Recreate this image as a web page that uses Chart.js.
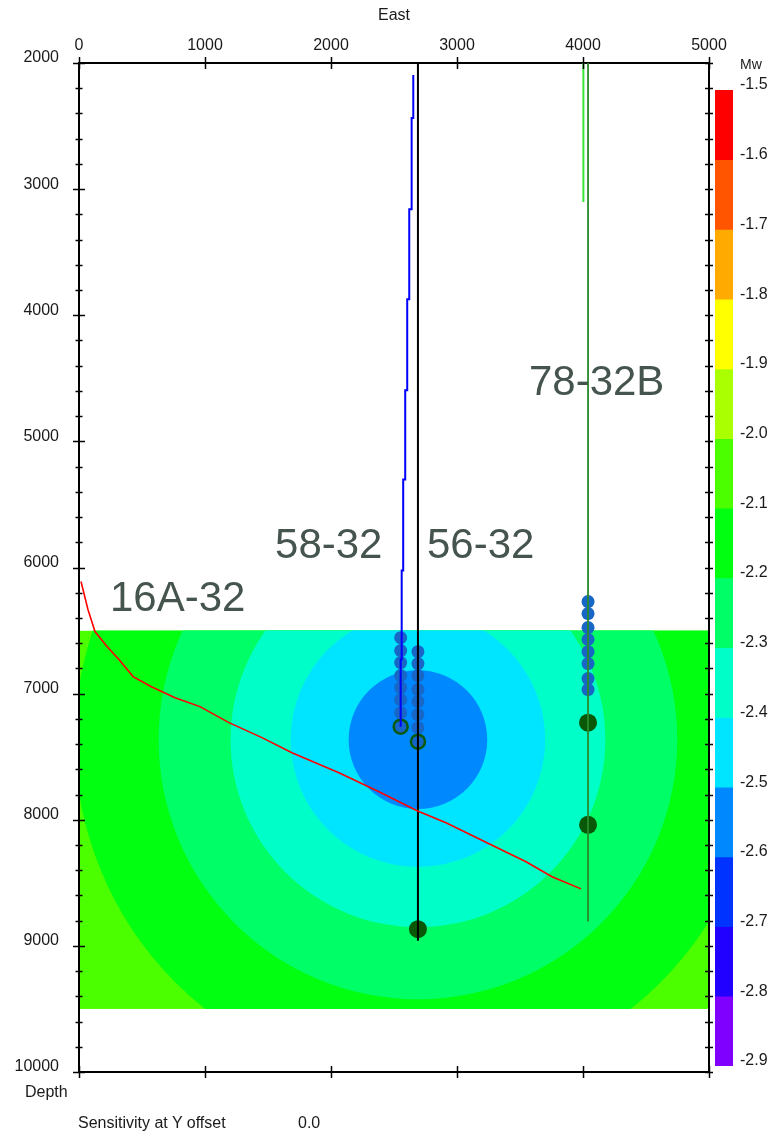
<!DOCTYPE html>
<html>
<head>
<meta charset="utf-8">
<script src="https://cdn.jsdelivr.net/npm/chart.js@4.4.1/dist/chart.umd.min.js"></script>
<style>
  html, body { margin: 0; padding: 0; background: #fff; }
  #wrap { position: relative; width: 777px; height: 1132px; font-family: "Liberation Sans", Arial, sans-serif; color: #1a1a1a; }
  #main, #scale { position: absolute; top: 0; }
  #main { left: 0; }
  #scale { left: 700px; }
  .note { position: absolute; font-size: 16px; line-height: 18px; white-space: pre; }
</style>
</head>
<body>
<div id="wrap">
  <canvas id="main" width="777" height="1132"></canvas>
  <canvas id="scale" width="77" height="1132"></canvas>
  <div class="note" style="left:740px; top:55px; font-size:14px;">Mw</div>
  <div class="note" style="left:25px; top:1083px;">Depth</div>
  <div class="note" style="left:78px; top:1114px;">Sensitivity at Y offset</div>
  <div class="note" style="left:298px; top:1114px;">0.0</div>
</div>
<script>
const FONT = '"Liberation Sans", Arial, sans-serif';
const TEXT = '#1a1a1a';

// Mw colour scale, top to bottom
const mwTicks = [-1.5, -1.6, -1.7, -1.8, -1.9, -2.0, -2.1, -2.2, -2.3, -2.4, -2.5, -2.6, -2.7, -2.8, -2.9];
const mwColors = ['#ff0000', '#ff5500', '#ffaa00', '#ffff00', '#aaff00', '#4cff00', '#00ff11',
                  '#00ff66', '#00ffc8', '#00e5ff', '#0088ff', '#0033ff', '#2200ff', '#7f00ff'];

// sensitivity field: extent, centre and band radii (ft)
const fieldEast = [0, 5000];
const fieldDepth = [6500, 9500];
const sourceEast = 2690;
const sourceDepth = 7365;
const bandTopMw = [-2.0, -2.1, -2.2, -2.3, -2.4, -2.5];
const bandRadius = [null, 2722, 2058, 1487, 1010, 550];

// well trajectories (east, depth in ft)
const well16A32East  = [16, 71, 127, 222, 317, 429, 571, 762, 960, 1190, 1452, 1690, 2063, 2381, 2683, 2913, 3254, 3548, 3754, 3984];
const well16A32Depth = [6111, 6333, 6508, 6627, 6730, 6865, 6944, 7032, 7103, 7230, 7349, 7468, 7627, 7778, 7929, 8024, 8190, 8333, 8452, 8548];
const well5832East   = [2653, 2640, 2621, 2605, 2589, 2573, 2561, 2553, 2553];
const well5832Depth  = [2095, 2437, 3159, 3873, 4595, 5302, 6024, 6730, 7262];
const well5632East   = [2690, 2690];
const well5632Depth  = [2000, 8960];
const well7832East   = [4003, 4003];
const well7832Depth  = [2000, 3103];
const well7832BEast  = [4040, 4040];
const well7832BDepth = [2000, 8807];

// located events
const events5832Depth  = [6556, 6659, 6754, 6857, 6952, 7048, 7151];
const events5632Depth  = [6667, 6762, 6857, 6968, 7063, 7167, 7270];
const events7832BDepth = [6270, 6365, 6476, 6571, 6667, 6762, 6881, 6968];
const ringEast  = [2553, 2690];
const ringDepth = [7262, 7381];
const largeEast  = [4040, 4040, 2690];
const largeDepth = [7230, 8040, 8868];

// well names and where they are written
const wellNames = ['16A-32', '58-32', '56-32', '78-32B'];
const wellNameEast = [246, 1556, 2762, 3571];
const wellNameDepth = [6341, 5921, 5921, 4635];

const pts = (xs, ys) => ys.map((d, i) => ({ x: Array.isArray(xs) ? xs[i] : xs, y: d }));
const mwColor = v => mwColors[Math.round((-1.5 - v) * 10)];

function wellLine(label, xs, ys, color, width, extra) {
    return Object.assign({
        label: label, data: pts(xs, ys), showLine: true, borderColor: color,
        borderWidth: width, pointRadius: 0, fill: false, xAxisID: 'x', yAxisID: 'y'
    }, extra || {});
}

const sensitivityField = {
    id: 'sensitivityField',
    beforeDraw(chart) {
        const { ctx, scales: { x, y } } = chart;
        const l = x.getPixelForValue(fieldEast[0]), r = x.getPixelForValue(fieldEast[1]);
        const t = y.getPixelForValue(fieldDepth[0]), b = y.getPixelForValue(fieldDepth[1]);
        const cx = x.getPixelForValue(sourceEast), cy = y.getPixelForValue(sourceDepth);
        ctx.save();
        ctx.beginPath();
        ctx.rect(l, t, r - l, b - t);
        ctx.clip();
        bandTopMw.forEach((mw, i) => {
            ctx.fillStyle = mwColor(mw);
            const rad = bandRadius[i];
            if (rad === null) {
                ctx.fillRect(l, t, r - l, b - t);
                return;
            }
            const rx = Math.abs(x.getPixelForValue(sourceEast + rad) - cx);
            const ry = Math.abs(y.getPixelForValue(sourceDepth + rad) - cy);
            ctx.beginPath();
            ctx.ellipse(cx, cy, rx, ry, 0, 0, Math.PI * 2);
            ctx.fill();
        });
        ctx.restore();
    }
};

// tick marks that cross the frame
const crossTicks = {
    id: 'crossTicks',
    afterDraw(chart) {
        const { ctx, chartArea: a, scales } = chart;
        ctx.save();
        ctx.strokeStyle = '#000';
        ctx.lineWidth = 1.5;
        ['x', 'x2', 'y', 'y2'].forEach(id => {
            const s = scales[id];
            s.ticks.forEach(tk => {
                const p = Math.round(s.getPixelForValue(tk.value)) + 0.5;
                ctx.beginPath();
                if (s.isHorizontal()) {
                    const edge = s.position === 'top' ? a.top : a.bottom;
                    ctx.moveTo(p, edge - 6);
                    ctx.lineTo(p, edge + 6);
                } else {
                    const edge = s.position === 'left' ? a.left : a.right;
                    let len = 4;
                    if (id === 'y') len = Math.round(tk.value) % 1000 === 0 ? 6 : 3.5;
                    ctx.moveTo(edge - len, p);
                    ctx.lineTo(edge + len, p);
                }
                ctx.stroke();
            });
        });
        ctx.restore();
    }
};

const wellLabels = {
    id: 'wellLabels',
    afterDatasetsDraw(chart) {
        const { ctx, scales: { x, y } } = chart;
        ctx.save();
        ctx.font = '42px ' + FONT;
        ctx.fillStyle = '#45554d';
        ctx.textAlign = 'left';
        ctx.textBaseline = 'alphabetic';
        wellNames.forEach((name, i) => {
            ctx.fillText(name, x.getPixelForValue(wellNameEast[i]), y.getPixelForValue(wellNameDepth[i]));
        });
        ctx.restore();
    }
};

const frame = { display: true, color: '#000', width: 2 };
const noGrid = { display: false, drawTicks: false };
const tickFont = { family: FONT, size: 16 };

new Chart(document.getElementById('main'), {
    type: 'scatter',
    data: {
        datasets: [
            wellLine('16A-32', well16A32East, well16A32Depth, '#ff0000', 1.6),
            wellLine('58-32', well5832East, well5832Depth, '#0000ff', 2, { stepped: 'after' }),
            wellLine('56-32', well5632East, well5632Depth, '#000000', 2),
            wellLine('78-32', well7832East, well7832Depth, '#35e835', 2),
            wellLine('78-32B', well7832BEast, well7832BDepth, '#2a8a2a', 1.8),
            {
                label: 'events', xAxisID: 'x', yAxisID: 'y',
                data: pts(2553, events5832Depth).concat(pts(2690, events5632Depth), pts(4040, events7832BDepth)),
                pointRadius: 6.5, pointBackgroundColor: '#1866c6', pointBorderWidth: 0
            },
            {
                label: 'ringed', xAxisID: 'x', yAxisID: 'y', data: pts(ringEast, ringDepth),
                pointRadius: 7, pointBackgroundColor: '#1566c8', pointBorderColor: '#0b5a0b', pointBorderWidth: 2.5
            },
            {
                label: 'large', xAxisID: 'x', yAxisID: 'y', data: pts(largeEast, largeDepth),
                pointRadius: 9, pointBackgroundColor: '#085808', pointBorderWidth: 0
            }
        ]
    },
    options: {
        responsive: false,
        animation: false,
        layout: { padding: 0 },
        plugins: { legend: { display: false }, tooltip: { enabled: false } },
        scales: {
            x: {
                type: 'linear', position: 'top', min: 0, max: 5000,
                ticks: { stepSize: 1000, color: TEXT, font: tickFont, padding: 8, callback: v => String(v) },
                grid: noGrid, border: frame,
                title: { display: true, text: 'East', color: TEXT, font: tickFont, padding: { top: 6, bottom: 0 } },
                afterFit: s => { s.height = 63; }
            },
            x2: {
                type: 'linear', position: 'bottom', min: 0, max: 5000,
                ticks: { display: false, stepSize: 1000 },
                grid: noGrid, border: frame,
                afterFit: s => { s.height = 60; }
            },
            y: {
                type: 'linear', position: 'left', reverse: true, min: 2000, max: 10000,
                ticks: {
                    stepSize: 200, autoSkip: false, color: TEXT, font: tickFont, padding: 20, labelOffset: -5,
                    callback: v => Math.round(v) % 1000 === 0 ? String(Math.round(v)) : ''
                },
                grid: noGrid, border: frame,
                afterFit: s => { s.width = 79; }
            },
            y2: {
                type: 'linear', position: 'right', reverse: true, min: 2000, max: 10000,
                ticks: { display: false, stepSize: 200 },
                grid: noGrid, border: frame,
                afterFit: s => { s.width = 68; }
            }
        }
    },
    plugins: [sensitivityField, crossTicks, wellLabels]
});

// colour bar: one floating bar per Mw band
new Chart(document.getElementById('scale'), {
    type: 'bar',
    data: {
        labels: ['Mw'],
        datasets: mwColors.map((c, i) => ({
            label: mwTicks[i].toFixed(1),
            data: [[mwTicks[i + 1], mwTicks[i]]],
            backgroundColor: c,
            borderWidth: 0,
            barPercentage: 1,
            categoryPercentage: 1
        }))
    },
    options: {
        responsive: false,
        animation: false,
        layout: { padding: { left: 15, top: 90, bottom: 66, right: 0 } },
        plugins: { legend: { display: false }, tooltip: { enabled: false } },
        scales: {
            x: { display: false, stacked: true },
            y: {
                position: 'right', min: -2.9, max: -1.5,
                ticks: { stepSize: 0.1, color: TEXT, font: tickFont, padding: 7, labelOffset: -5, callback: v => v.toFixed(1) },
                grid: noGrid, border: { display: false },
                afterFit: s => { s.width = 44; }
            }
        }
    }
});
</script>
</body>
</html>
